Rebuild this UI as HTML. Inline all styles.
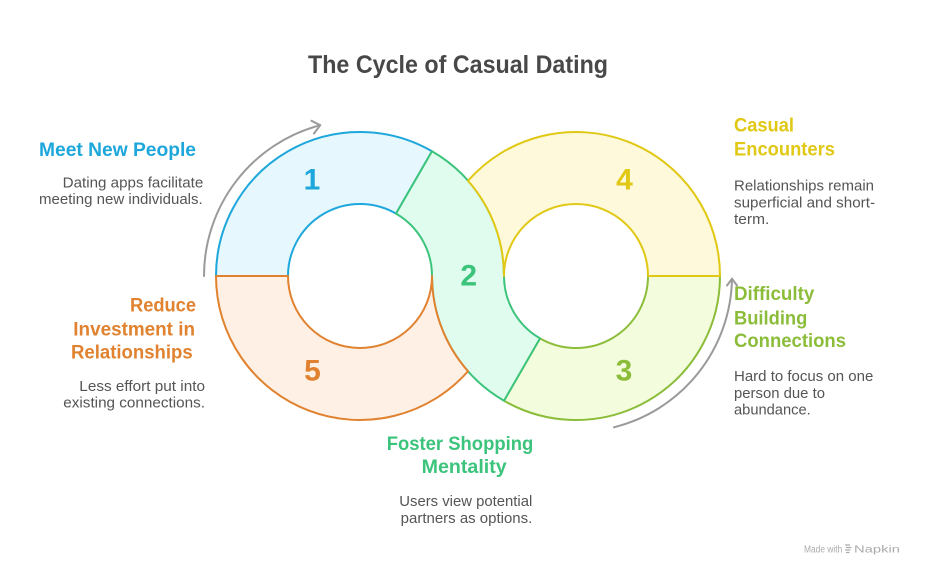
<!DOCTYPE html>
<html><head><meta charset="utf-8"><style>
html,body{margin:0;padding:0;background:#fff;}
svg{display:block;}
text{font-family:"Liberation Sans",Arial,sans-serif;}
.h{font-weight:700;font-size:19px;}
.d{font-size:14.5px;fill:#555;}
.n{font-weight:700;font-size:30px;text-anchor:middle;}
</style></head><body>
<svg width="936" height="577" viewBox="0 0 936 577" xmlns="http://www.w3.org/2000/svg">
<rect width="936" height="577" fill="#fff"/>
<text x="308" y="73" font-size="25" font-weight="700" fill="#484848" textLength="300" lengthAdjust="spacingAndGlyphs">The Cycle of Casual Dating</text>

<!-- segments -->
<path d="M216,276 A144,144 0 0,1 432,151.3 L396,213.65 A72,72 0 0,0 288,276 Z" fill="#E6F7FD" stroke="#1EA7DB" stroke-width="2" stroke-linejoin="round"/>
<path d="M720,276 A144,144 0 0,1 504,400.7 L540,338.35 A72,72 0 0,0 648,276 Z" fill="#F3FDDD" stroke="#8CBD3A" stroke-width="2" stroke-linejoin="round"/>
<path d="M396,213.65 L432,151.3 A144,144 0 0,1 504,276 A72,72 0 0,0 540,338.35 L504,400.7 A144,144 0 0,1 432,276 A72,72 0 0,0 396,213.65 Z" fill="#E0FCEE" stroke="#3CC47C" stroke-width="2" stroke-linejoin="round"/>
<path d="M216,276 L288,276 A72,72 0 0,0 432,276 A144,144 0 0,0 468,371.25 A144,144 0 0,1 216,276 Z" fill="#FEF0E4" stroke="#E0822F" stroke-width="2" stroke-linejoin="round"/>
<path d="M504,276 A72,72 0 0,1 648,276 L720,276 A144,144 0 0,0 468,180.75 A144,144 0 0,1 504,276 Z" fill="#FEF9DA" stroke="#E0C814" stroke-width="2" stroke-linejoin="round"/>

<!-- numbers -->
<text class="n" x="312" y="189.5" fill="#1EA7DB">1</text>
<text class="n" x="468.7" y="285.3" fill="#3CC47C">2</text>
<text class="n" x="624" y="380.5" fill="#8CBD3A">3</text>
<text class="n" x="624.5" y="189.3" fill="#E0C814">4</text>
<text class="n" x="312.5" y="380.7" fill="#E0822F">5</text>

<!-- arrows -->
<g fill="none" stroke="#9A9A9A" stroke-width="2" stroke-linecap="round" stroke-linejoin="round">
<path d="M204,276 A156,156 0 0,1 320.2,125.2"/>
<path d="M311.5,120.8 L320.2,125.2 L314,133.5"/>
<path d="M614,427.3 A156,156 0 0,0 732,278.7"/>
<path d="M727,285.5 L732,278.7 L737,285.5"/>
</g>

<!-- left top -->
<text class="h" x="39" y="156" fill="#1EA7DB" textLength="157" lengthAdjust="spacingAndGlyphs">Meet New People</text>
<text class="d" x="62.7" y="187.3" textLength="140.6" lengthAdjust="spacingAndGlyphs">Dating apps facilitate</text>
<text class="d" x="39" y="204" textLength="163.7" lengthAdjust="spacingAndGlyphs">meeting new individuals.</text>

<!-- left bottom -->
<text class="h" x="130" y="311.7" fill="#E0822F" textLength="66" lengthAdjust="spacingAndGlyphs">Reduce</text>
<text class="h" x="73.3" y="335.7" fill="#E0822F" textLength="121.7" lengthAdjust="spacingAndGlyphs">Investment in</text>
<text class="h" x="71" y="358.3" fill="#E0822F" textLength="121.7" lengthAdjust="spacingAndGlyphs">Relationships</text>
<text class="d" x="79.3" y="391" textLength="125.7" lengthAdjust="spacingAndGlyphs">Less effort put into</text>
<text class="d" x="63.3" y="407.7" textLength="141.7" lengthAdjust="spacingAndGlyphs">existing connections.</text>

<!-- right top -->
<text class="h" x="734" y="131.7" fill="#E0C814" textLength="60" lengthAdjust="spacingAndGlyphs">Casual</text>
<text class="h" x="734" y="155.7" fill="#E0C814" textLength="101" lengthAdjust="spacingAndGlyphs">Encounters</text>
<text class="d" x="734" y="190.7" textLength="140" lengthAdjust="spacingAndGlyphs">Relationships remain</text>
<text class="d" x="734" y="207.4" textLength="141" lengthAdjust="spacingAndGlyphs">superficial and short-</text>
<text class="d" x="734" y="224" textLength="35.3" lengthAdjust="spacingAndGlyphs">term.</text>

<!-- right bottom -->
<text class="h" x="734" y="300" fill="#8CBD3A" textLength="80.3" lengthAdjust="spacingAndGlyphs">Difficulty</text>
<text class="h" x="734" y="324.3" fill="#8CBD3A" textLength="73.3" lengthAdjust="spacingAndGlyphs">Building</text>
<text class="h" x="734" y="347" fill="#8CBD3A" textLength="112" lengthAdjust="spacingAndGlyphs">Connections</text>
<text class="d" x="734" y="381" textLength="139.3" lengthAdjust="spacingAndGlyphs">Hard to focus on one</text>
<text class="d" x="734" y="398" textLength="91" lengthAdjust="spacingAndGlyphs">person due to</text>
<text class="d" x="734" y="414.7" textLength="76.7" lengthAdjust="spacingAndGlyphs">abundance.</text>

<!-- bottom -->
<text class="h" x="386.7" y="450" fill="#3CC47C" textLength="146.6" lengthAdjust="spacingAndGlyphs">Foster Shopping</text>
<text class="h" x="421.7" y="473" fill="#3CC47C" textLength="85" lengthAdjust="spacingAndGlyphs">Mentality</text>
<text class="d" x="399.3" y="506" textLength="133" lengthAdjust="spacingAndGlyphs">Users view potential</text>
<text class="d" x="400.7" y="523" textLength="131.6" lengthAdjust="spacingAndGlyphs">partners as options.</text>

<!-- watermark -->
<text x="804" y="552.3" font-size="10" fill="#ABABAB" textLength="38.3" lengthAdjust="spacingAndGlyphs">Made with</text>
<g stroke="#ABABAB" stroke-width="1.2" fill="none" stroke-linecap="round">
<path d="M845.5,545 L849.5,545 M846.5,547.5 L851,547.5 M845.5,550 L850,550 M846.5,552.5 L849,552.5"/>
</g>
<text x="854" y="552.3" font-size="10" fill="#ABABAB" textLength="46" lengthAdjust="spacingAndGlyphs">Napkin</text>
</svg>
</body></html>
